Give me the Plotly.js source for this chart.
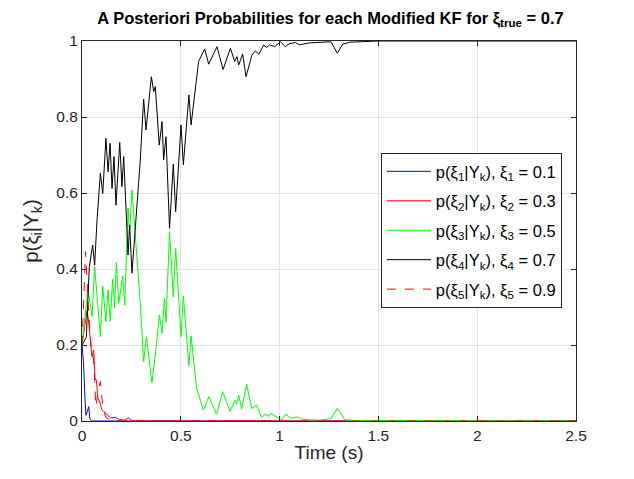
<!DOCTYPE html>
<html>
<head>
<meta charset="utf-8">
<script src="https://cdn.plot.ly/plotly-3.0.1.min.js"></script>
<style>html,body{margin:0;padding:0;background:#fff;}</style>
</head>
<body>
<div id="chart" style="width:634px;height:479px;"></div>
<script>
// xi_1 = 0.1
const t1 = [0, 0.008, 0.015, 0.02, 0.027, 0.034, 0.04, 0.05, 2.5];
const p1 = [0.2, 0.15, 0.06, 0.015, 0.025, 0.038, 0.005, 0, 0];

// xi_2 = 0.3
const t2 = [0, 0.012, 0.025, 0.032, 0.042, 0.05, 0.059, 0.066, 0.073, 0.08, 0.09, 0.1, 0.11, 0.12, 0.133, 0.145, 0.166, 0.19, 0.215, 0.235, 0.25, 0.27, 2.5];
const p2 = [0.2, 0.25, 0.29, 0.27, 0.2, 0.17, 0.187, 0.11, 0.108, 0.06, 0.05, 0.03, 0.025, 0.02, 0.016, 0.008, 0.01, 0.004, 0.002, 0.008, 0.002, 0, 0];

// xi_3 = 0.5
const t3 = [0, 0.015, 0.030, 0.051, 0.064, 0.093, 0.105, 0.121, 0.132, 0.143, 0.155, 0.165, 0.174, 0.186, 0.206, 0.216, 0.233, 0.241, 0.253, 0.295, 0.312, 0.326, 0.354, 0.368, 0.392, 0.405, 0.417, 0.425, 0.443, 0.462, 0.474, 0.501, 0.513, 0.541, 0.552, 0.58, 0.614, 0.642, 0.681, 0.712, 0.749, 0.774, 0.783, 0.793, 0.808, 0.833, 0.859, 0.884, 0.908, 0.93, 0.945, 0.955, 0.99, 1.01, 1.032, 1.06, 1.08, 1.095, 1.12, 1.2, 1.26, 1.292, 1.33, 1.4, 2.5];
const p3 = [0.2, 0.28, 0.345, 0.275, 0.406, 0.222, 0.355, 0.261, 0.345, 0.263, 0.373, 0.297, 0.417, 0.31, 0.382, 0.305, 0.56, 0.494, 0.608, 0.31, 0.156, 0.222, 0.101, 0.161, 0.279, 0.231, 0.323, 0.26, 0.498, 0.327, 0.454, 0.222, 0.329, 0.145, 0.224, 0.086, 0.029, 0.064, 0.018, 0.077, 0.025, 0.055, 0.045, 0.068, 0.031, 0.097, 0.033, 0.042, 0.01, 0.018, 0.012, 0.02, 0.01, 0.003, 0.018, 0.006, 0.01, 0.01, 0.004, 0.002, 0.006, 0.033, 0.003, 0.001, 0];

// xi_4 = 0.7
const t4 = [0, 0.022, 0.037, 0.054, 0.064, 0.076, 0.093, 0.105, 0.121, 0.132, 0.142, 0.152, 0.162, 0.172, 0.191, 0.202, 0.211, 0.233, 0.241, 0.253, 0.295, 0.312, 0.324, 0.351, 0.363, 0.371, 0.391, 0.405, 0.413, 0.425, 0.443, 0.462, 0.474, 0.501, 0.513, 0.541, 0.552, 0.575, 0.59, 0.621, 0.641, 0.683, 0.714, 0.751, 0.773, 0.784, 0.793, 0.813, 0.830, 0.860, 0.877, 0.895, 0.919, 0.935, 0.95, 0.975, 1.004, 1.029, 1.05, 1.08, 1.10, 1.15, 1.2, 1.26, 1.292, 1.32, 1.36, 1.42, 1.5, 2.5];
const p4 = [0.2, 0.22, 0.406, 0.463, 0.41, 0.529, 0.652, 0.599, 0.744, 0.656, 0.731, 0.612, 0.696, 0.568, 0.733, 0.617, 0.696, 0.437, 0.516, 0.389, 0.687, 0.847, 0.766, 0.906, 0.867, 0.88, 0.726, 0.788, 0.687, 0.748, 0.507, 0.676, 0.551, 0.779, 0.674, 0.858, 0.779, 0.89, 0.946, 0.979, 0.939, 0.985, 0.925, 0.981, 0.946, 0.959, 0.937, 0.966, 0.906, 0.963, 0.974, 0.965, 0.989, 0.983, 0.990, 0.985, 0.998, 0.985, 0.993, 0.996, 0.99, 0.995, 0.997, 0.998, 0.968, 0.992, 0.997, 0.999, 1.0, 1.0];

// xi_5 = 0.9
const t5 = [0, 0.01, 0.018, 0.034, 0.047, 0.059, 0.07, 0.082, 0.093, 0.105, 0.12, 0.14, 0.2, 2.5];
const p5 = [0.2, 0.35, 0.446, 0.284, 0.187, 0.16, 0.038, 0.08, 0.104, 0.04, 0.01, 0.003, 0, 0];

const names = [
  'p(ξ<sub>1</sub>|Y<sub>k</sub>), ξ<sub>1</sub> = 0.1',
  'p(ξ<sub>2</sub>|Y<sub>k</sub>), ξ<sub>2</sub> = 0.3',
  'p(ξ<sub>3</sub>|Y<sub>k</sub>), ξ<sub>3</sub> = 0.5',
  'p(ξ<sub>4</sub>|Y<sub>k</sub>), ξ<sub>4</sub> = 0.7',
  'p(ξ<sub>5</sub>|Y<sub>k</sub>), ξ<sub>5</sub> = 0.9'
];
const xs = [t1, t2, t3, t4, t5];
const ys = [p1, p2, p3, p4, p5];
const colors = ['#0000ff', '#ff0000', '#00ff00', '#000000', '#ff0000'];
const dashes = ['solid', 'solid', 'solid', 'solid', 'dash'];

const traces = xs.map((x, i) => ({
  x: x, y: ys[i], type: 'scatter', mode: 'lines', name: names[i],
  legendgroup: 'g' + i,
  line: {color: colors[i], width: 1, dash: dashes[i]}
}));

const font = 'Liberation Sans, Arial, Helvetica, sans-serif';
const axisCommon = {
  showline: true, linecolor: '#262626', linewidth: 1, mirror: 'ticks',
  ticks: 'inside', ticklen: 5, tickcolor: '#262626',
  showgrid: true, gridcolor: '#e3e3e3', gridwidth: 1, zeroline: false,
  tickfont: {family: font, size: 15.5, color: '#262626'}
};

const layout = {
  width: 634, height: 479,
  margin: {l: 82, r: 58, t: 41, b: 58},
  paper_bgcolor: '#ffffff', plot_bgcolor: '#ffffff',
  font: {family: font, color: '#262626'},
  title: {
    text: '<b>A Posteriori Probabilities for each Modified KF for ξ<sub>true</sub> = 0.7</b>',
    font: {family: font, size: 16.5, color: '#000000'},
    xref: 'paper', x: 0.503, xanchor: 'center',
    yref: 'container', y: 0.962, yanchor: 'middle'
  },
  xaxis: Object.assign({}, axisCommon, {
    range: [0, 2.5], tickvals: [0, 0.5, 1, 1.5, 2, 2.5],
    ticktext: ['0', '0.5', '1', '1.5', '2', '2.5'],
    title: {text: 'Time (s)', font: {family: font, size: 19, color: '#262626'}, standoff: 3}
  }),
  yaxis: Object.assign({}, axisCommon, {
    range: [0, 1], tickvals: [0, 0.2, 0.4, 0.6, 0.8, 1],
    ticktext: ['0', '0.2', '0.4', '0.6', '0.8', '1'],
    title: {text: 'p(ξ<sub>i</sub>|Y<sub>k</sub>)', font: {family: font, size: 20.5, color: '#262626'}, standoff: 12}
  }),
  showlegend: true,
  legend: {
    x: 0.605, y: 0.705, xanchor: 'left', yanchor: 'top',
    bgcolor: '#ffffff', bordercolor: '#262626', borderwidth: 1,
    font: {family: font, size: 16.5, color: '#000000'},
    itemwidth: 44, tracegroupgap: 5
  }
};

Plotly.newPlot('chart', traces, layout, {displayModeBar: false, staticPlot: true});
</script>
</body>
</html>
